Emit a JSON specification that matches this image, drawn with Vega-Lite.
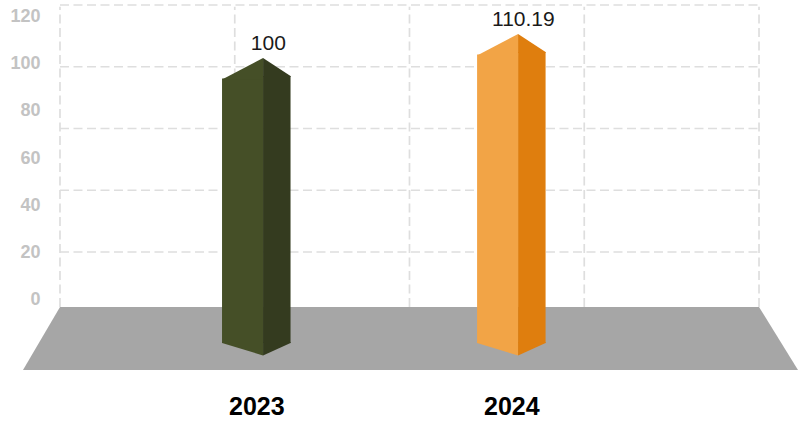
{
  "$schema": "https://vega.github.io/schema/vega-lite/v6.json",
  "width": 750,
  "height": 365,
  "autosize": {"type": "none"},
  "padding": {"left": 50, "top": 5, "right": 0, "bottom": 56},
  "background": "white",
  "config": {"view": {"stroke": null}},
  "datasets": {
    "bars": [
      {"year": 2023, "value": 100},
      {"year": 2024, "value": 110.19}
    ],
    "hgrid": [
      {"level": 40}, {"level": 60}, {"level": 80}, {"level": 100}, {"level": 120}
    ],
    "vgrid": [
      {"slot": 0}, {"slot": 1}, {"slot": 2}, {"slot": 3}, {"slot": 4}
    ],
    "floor": [
      {"part": "floor"}
    ]
  },
  "layer": [
    {
      "layer": [
        {
          "data": {"name": "hgrid"},
          "mark": {"type": "rule", "stroke": "#dedede", "strokeWidth": 1.7, "strokeDash": [9, 4.5]},
          "encoding": {
            "x": {"datum": 0, "type": "quantitative", "scale": {"domain": [-0.0572, 4.2346], "nice": false, "zero": false}, "axis": null},
            "x2": {"datum": 4.01},
            "y": {"field": "level", "type": "quantitative", "scale": {"domain": [1.78, 120], "nice": false, "zero": false}, "axis": null}
          }
        },
        {
          "data": {"name": "vgrid"},
          "mark": {"type": "rule", "stroke": "#dedede", "strokeWidth": 1.7, "strokeDash": [9, 4.5]},
          "encoding": {
            "x": {"field": "slot", "type": "quantitative", "scale": {"domain": [-0.0572, 4.2346], "nice": false, "zero": false}, "axis": null},
            "y": {"datum": 22.19, "type": "quantitative", "scale": {"domain": [1.78, 120], "nice": false, "zero": false}, "axis": null},
            "y2": {"datum": 119.4}
          }
        },
        {
          "data": {"name": "floor"},
          "mark": {"type": "point", "shape": "M -349.5 -31.5 L 349.5 -31.5 L 388.5 31.5 L -386.5 31.5 Z", "size": 4, "filled": true, "fill": "#a6a6a6", "opacity": 1},
          "encoding": {
            "x": {"datum": 2, "type": "quantitative", "scale": {"domain": [-0.0572, 4.2346], "nice": false, "zero": false}, "axis": null},
            "y": {"datum": 12, "type": "quantitative", "scale": {"domain": [1.78, 120], "nice": false, "zero": false}, "axis": null}
          }
        }
      ]
    },
    {
      "data": {"name": "bars"},
      "encoding": {
        "x": {
          "field": "year", "type": "quantitative",
          "scale": {"domain": [2022.2108, 2025.1122], "nice": false, "zero": false},
          "axis": {
            "orient": "bottom", "values": [2023, 2024], "format": "d", "title": null,
            "domain": false, "ticks": false, "tickSize": 0, "grid": false, "labelFlush": false,
            "labelFont": "Liberation Sans", "labelFontSize": 25, "labelFontWeight": "bold",
            "labelColor": "#000000", "labelPadding": 24
          }
        },
        "y": {
          "field": "value", "type": "quantitative",
          "scale": {"domain": [-29.58, 124.65], "nice": false, "zero": false},
          "axis": {
            "orient": "left", "values": [0, 20, 40, 60, 80, 100, 120], "title": null,
            "domain": false, "ticks": false, "tickSize": 0, "grid": false,
            "labelFont": "Liberation Sans", "labelFontSize": 18, "labelFontWeight": "bold",
            "labelColor": "#c3c3c3", "labelPadding": 10
          }
        }
      },
      "layer": [
        {
          "mark": {"type": "bar", "width": 41, "xOffset": -13.75, "yOffset": 15.25},
          "encoding": {
            "y2": {"datum": -18.17},
            "color": {"field": "year", "type": "nominal", "scale": {"domain": [2023, 2024], "range": ["#454f27", "#f2a446"]}, "legend": null}
          }
        },
        {
          "mark": {"type": "bar", "width": 27.5, "xOffset": 20.5, "yOffset": 12.75},
          "encoding": {
            "y2": {"datum": -18.17},
            "fill": {"field": "year", "type": "nominal", "scale": {"domain": [2023, 2024], "range": ["#343b1f", "#df7e0e"]}, "legend": null}
          }
        },
        {
          "mark": {"type": "point", "shape": "M -34.25 16.25 L 6.75 16.25 L 6.75 -5.3 Z", "size": 4, "filled": true, "opacity": 1},
          "encoding": {
            "color": {"field": "year", "type": "nominal", "scale": {"domain": [2023, 2024], "range": ["#454f27", "#f2a446"]}, "legend": null}
          }
        },
        {
          "mark": {"type": "point", "shape": "M 6.75 -5.3 L 34.25 12.75 L 34.25 13.75 L 6.75 13.75 Z", "size": 4, "filled": true, "opacity": 1},
          "encoding": {
            "fill": {"field": "year", "type": "nominal", "scale": {"domain": [2023, 2024], "range": ["#343b1f", "#df7e0e"]}, "legend": null}
          }
        },
        {
          "mark": {"type": "point", "shape": "M -34.25 -1 L 6.75 -1 L 6.75 12.5 L -34.25 0 Z", "size": 4, "filled": true, "opacity": 1},
          "encoding": {
            "y": {"datum": -18.17, "type": "quantitative"},
            "color": {"field": "year", "type": "nominal", "scale": {"domain": [2023, 2024], "range": ["#454f27", "#f2a446"]}, "legend": null}
          }
        },
        {
          "mark": {"type": "point", "shape": "M 6.75 -1 L 34.25 -1 L 34.25 0 L 6.75 12.5 Z", "size": 4, "filled": true, "opacity": 1},
          "encoding": {
            "y": {"datum": -18.17, "type": "quantitative"},
            "fill": {"field": "year", "type": "nominal", "scale": {"domain": [2023, 2024], "range": ["#343b1f", "#df7e0e"]}, "legend": null}
          }
        },
        {
          "mark": {"type": "text", "dx": 12, "dy": -13.7, "baseline": "alphabetic", "font": "Liberation Sans", "fontSize": 21, "color": "#1a1a1a"},
          "encoding": {
            "text": {"field": "value", "type": "quantitative"}
          }
        }
      ]
    }
  ],
  "resolve": {"scale": {"x": "independent", "y": "independent"}}
}
